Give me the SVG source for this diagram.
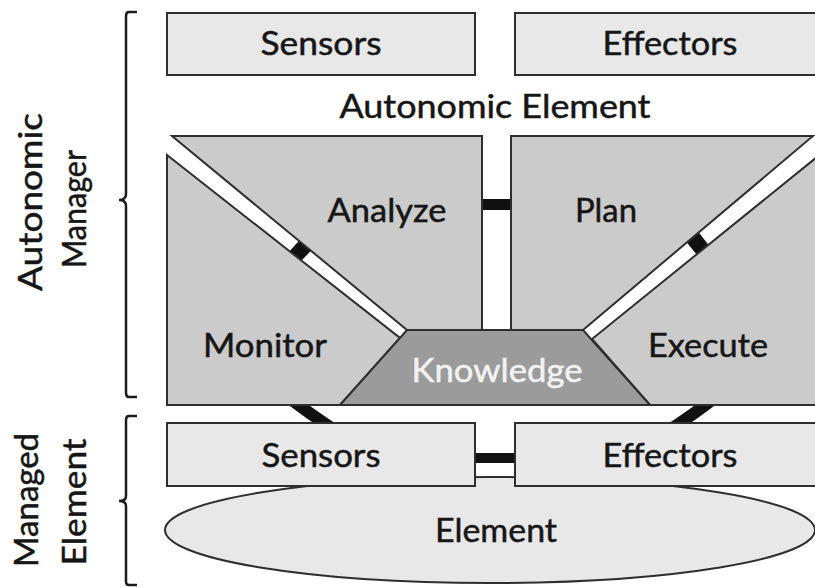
<svg xmlns="http://www.w3.org/2000/svg" width="815" height="588" viewBox="0 0 815 588">
  <style>
    .lbl { font-family: Lato, "Open Sans", "Liberation Sans", sans-serif; font-size: 33px; fill: #161616; stroke: #161616; stroke-width: 0.5; }
    .light { fill: #e8e8e8; stroke: #2e2e2e; stroke-width: 2; }
    .mid { fill: #cbcbcb; stroke: #2e2e2e; stroke-width: 2; stroke-linejoin: miter; }
    .dark { fill: #9b9b9b; stroke: #2e2e2e; stroke-width: 2; }
    .brace { fill: none; stroke: #1c1c1c; stroke-width: 2.5; }
    .conn { fill: none; stroke: #111; stroke-width: 12; }
    .blk { fill: #111; }
  </style>
  <rect width="815" height="588" fill="#ffffff"/>

  <g id="bracket-autonomic-manager">
    <path class="brace" d="M137,12 H129 Q126,12 126,16 V194 Q126,200 119,200 Q126,200 126,206 V393 Q126,397 129,397 H137"/>
  </g>
  <g id="bracket-managed-element">
    <path class="brace" d="M137,416 H129 Q126,416 126,420 V496 Q126,501 119,501 Q126,501 126,506 V582 Q126,585 129,585 H137"/>
  </g>
  <g id="label-autonomic-manager">
    <text class="lbl" transform="translate(42,202) rotate(-90)" text-anchor="middle" textLength="178" lengthAdjust="spacingAndGlyphs">Autonomic</text>
    <text class="lbl" transform="translate(86,209) rotate(-90)" text-anchor="middle" textLength="118" lengthAdjust="spacingAndGlyphs">Manager</text>
  </g>
  <g id="label-managed-element">
    <text class="lbl" transform="translate(38,500) rotate(-90)" text-anchor="middle" textLength="134" lengthAdjust="spacingAndGlyphs">Managed</text>
    <text class="lbl" transform="translate(86,502) rotate(-90)" text-anchor="middle" textLength="127" lengthAdjust="spacingAndGlyphs">Element</text>
  </g>

  <g id="connectors">
    <rect class="blk" x="481" y="199" width="31" height="11"/>
    <polygon class="blk" points="299,240.8 311,250.7 301.5,260.6 289.5,251.2"/>
    <polygon class="blk" points="687,242.7 699,232.7 708.6,244.9 696.6,254.6"/>
    <path class="conn" d="M288,397 Q310,414 336,431"/>
    <path class="conn" d="M716,397 Q694,414 668,431"/>
    <rect class="blk" x="474" y="453" width="42" height="10"/>
  </g>

  <g id="sensors-top">
    <rect class="light" x="167" y="13" width="308" height="62"/>
    <text class="lbl" x="321" y="55" text-anchor="middle" textLength="121" lengthAdjust="spacingAndGlyphs">Sensors</text>
  </g>
  <g id="effectors-top">
    <rect class="light" x="515" y="13" width="310" height="62"/>
    <text class="lbl" x="670" y="55" text-anchor="middle" textLength="135" lengthAdjust="spacingAndGlyphs">Effectors</text>
  </g>
  <g id="autonomic-element-label">
    <text class="lbl" x="495" y="118" text-anchor="middle" textLength="311" lengthAdjust="spacingAndGlyphs">Autonomic Element</text>
  </g>

  <g id="analyze">
    <polygon class="mid" points="172,136 482,136 482,330 407,330"/>
    <text class="lbl" x="387" y="222" text-anchor="middle" textLength="119" lengthAdjust="spacingAndGlyphs">Analyze</text>
  </g>
  <g id="plan">
    <polygon class="mid" points="511,136 813,136 583,330 511,330"/>
    <text class="lbl" x="606" y="222" text-anchor="middle" textLength="62" lengthAdjust="spacingAndGlyphs">Plan</text>
  </g>
  <g id="monitor">
    <polygon class="mid" points="167,155 400,338 340,405 167,405"/>
    <text class="lbl" x="265" y="357" text-anchor="middle" textLength="124" lengthAdjust="spacingAndGlyphs">Monitor</text>
  </g>
  <g id="execute">
    <polygon class="mid" points="822,153 592,339 650,405 822,405"/>
    <text class="lbl" x="708" y="357" text-anchor="middle" textLength="120" lengthAdjust="spacingAndGlyphs">Execute</text>
  </g>
  <g id="knowledge">
    <polygon class="dark" points="407,330 583,330 650,405 340,405"/>
    <text class="lbl" x="497" y="382" text-anchor="middle" textLength="171" lengthAdjust="spacingAndGlyphs" style="fill:#f2f2f2;stroke:#f2f2f2">Knowledge</text>
  </g>

  <g id="element">
    <ellipse class="light" cx="490" cy="530" rx="325" ry="53"/>
    <text class="lbl" x="496" y="542" text-anchor="middle" textLength="122" lengthAdjust="spacingAndGlyphs">Element</text>
  </g>
  <g id="sensors-bottom">
    <rect class="light" x="167" y="423" width="308" height="63"/>
    <text class="lbl" x="321" y="467" text-anchor="middle" textLength="119" lengthAdjust="spacingAndGlyphs">Sensors</text>
  </g>
  <g id="effectors-bottom">
    <rect class="light" x="515" y="423" width="310" height="63"/>
    <text class="lbl" x="670" y="467" text-anchor="middle" textLength="135" lengthAdjust="spacingAndGlyphs">Effectors</text>
  </g>
</svg>
